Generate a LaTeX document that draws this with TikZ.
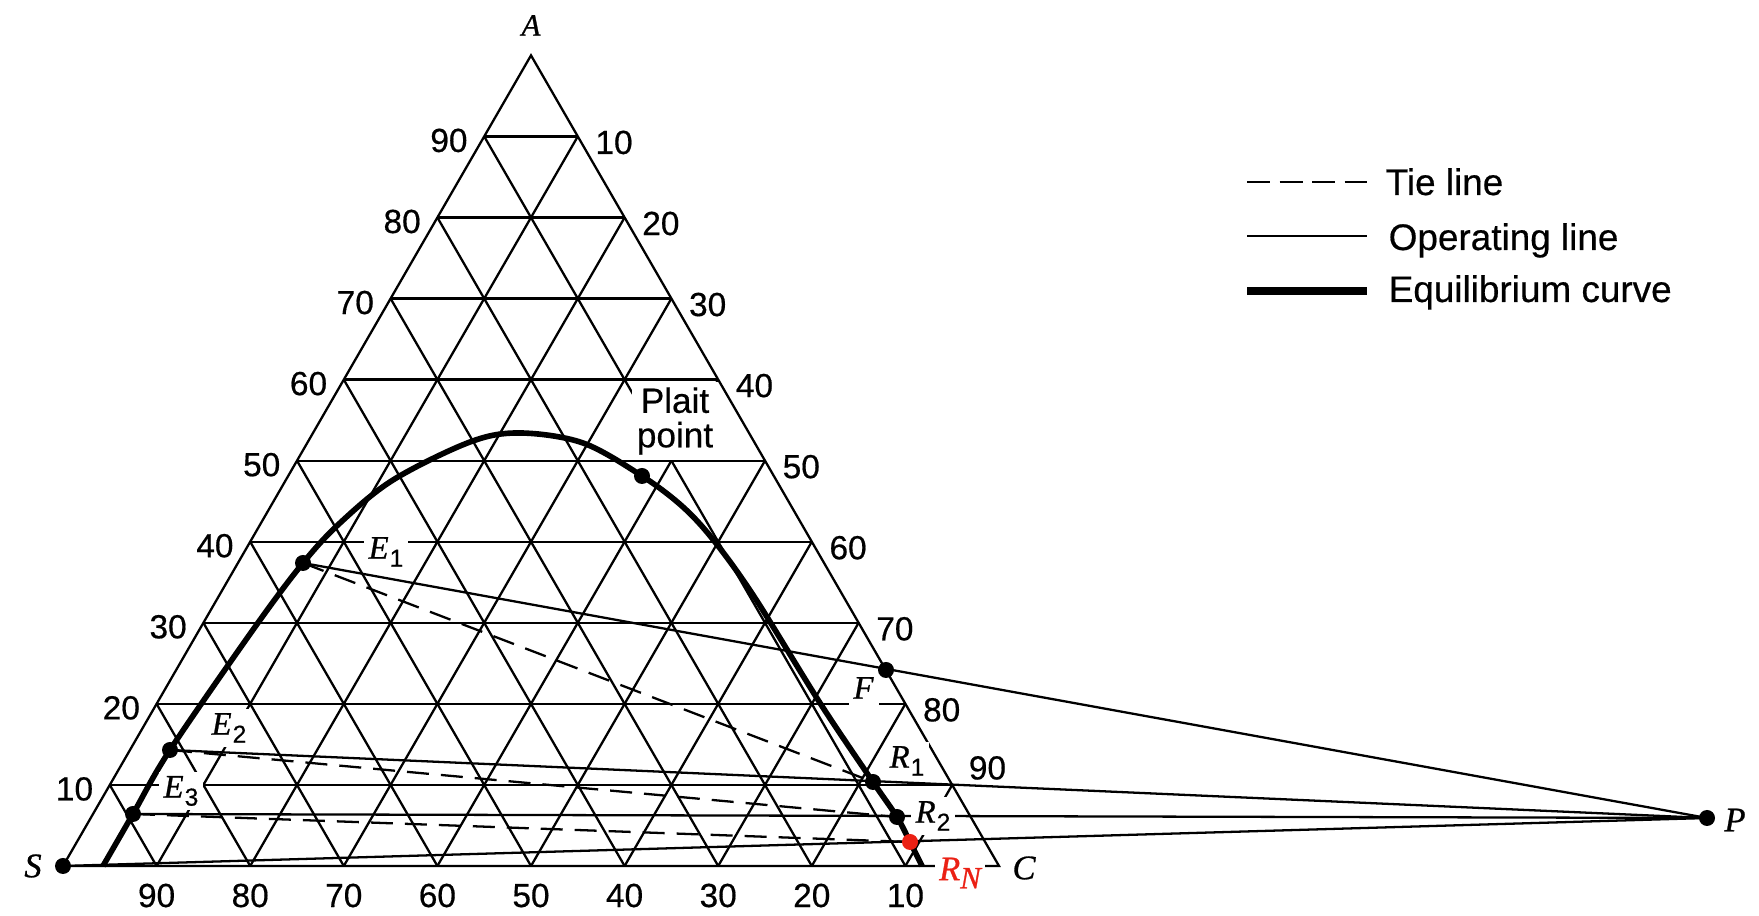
\documentclass[tikz,border=0pt]{standalone}
\usepackage{fontspec}
\setmainfont{Liberation Sans}[FakeBold=0.5]
\newfontfamily\lblfont{Liberation Serif}[ItalicFeatures={FakeBold=0.8}]
\usetikzlibrary{positioning,calc}
\definecolor{rnred}{RGB}{235,32,20}
\newcommand{\pname}[2]{{\lblfont\itshape #1}\raisebox{-2.3pt}{\fontsize{7}{8}\selectfont\kern0.3pt#2}}
\tikzstyle{grid}=[line width=0.65pt]
\tikzstyle{eq}=[line width=1.6pt,line join=round]
\tikzstyle{op}=[line width=0.65pt]
\tikzstyle{tie}=[line width=0.65pt,dash pattern=on 2.2mm off 1.2mm]
\tikzstyle{dot}=[circle,fill=black,inner sep=0pt,minimum size=1.6mm]
\tikzstyle{num}=[inner sep=0pt,font=\fontsize{9.5}{11}\selectfont]
\tikzstyle{lab}=[fill=white,inner sep=1.2pt,font=\fontsize{9.3}{10}\selectfont]
\tikzstyle{vtx}=[inner sep=0pt,font=\fontsize{9.8}{10}\selectfont\lblfont\itshape]
\tikzstyle{leg}=[inner sep=0pt,anchor=base west,font=\fontsize{10.5}{12}\selectfont]

\begin{document}
\begin{tikzpicture}
  \useasboundingbox (-0.63,-0.50) rectangle (16.96,8.66);
  % corners and points
  \coordinate (S) at (0,0);
  \coordinate (C) at (9.36,0);
  \coordinate (A) at (4.68,8.106);
  \coordinate (P) at (16.44,0.48);
  \coordinate (F) at (8.23,1.96);
  \coordinate (E1) at (2.40,3.03);
  \coordinate (E2) at (1.07,1.16);
  \coordinate (E3) at (0.70,0.52);
  \coordinate (R1) at (8.10,0.84);
  \coordinate (R2) at (8.34,0.49);
  \coordinate (RN) at (8.47,0.24);
  \coordinate (PP) at (5.79,3.90);
  % grid
  \foreach \k in {1,...,9} {
    \draw[grid] ($(S)!\k/10!(A)$) -- ($(C)!\k/10!(A)$);
    \draw[grid] ($(S)!\k/10!(C)$) -- ($(S)!\k/10!(A)$);
    \draw[grid] ($(S)!\k/10!(C)$) -- ($(C)!{1-\k/10}!(A)$);
  }
  \draw[grid] (S) -- (C) -- (A) -- cycle;
  % scales
  \foreach \k in {1,...,9} {
    \pgfmathtruncatemacro{\v}{10*\k}
    \pgfmathtruncatemacro{\w}{100-10*\k}
    \node[num,left=1.6mm,yshift=-0.4mm] (nA\k) at ($(S)!\k/10!(A)$) {\v};
    \node[num,below=1.7mm] (nS\k) at ($(S)!\k/10!(C)$) {\w};
  }
  \foreach \k in {2,...,9} {
    \pgfmathtruncatemacro{\w}{100-10*\k}
    \node[num,right=1.7mm,yshift=-0.6mm] (nC\k) at ($(C)!\k/10!(A)$) {\w};
  }
  \node[num,right=1.6mm,yshift=1.7mm] (nC1) at ($(C)!0.1!(A)$) {90};
  % equilibrium curve
  \draw[eq] plot[smooth,tension=0.55] coordinates {(0.40,0) (E3) (E2) (1.92,2.39) (E1)
    (2.77,3.43) (3.30,3.86) (4.07,4.24) (4.57,4.33) (5.20,4.23) (PP) (6.20,3.59)
    (6.52,3.24) (6.92,2.68) (7.57,1.63) (R1) (R2) (RN) (8.59,0)};
  % operating lines
  \draw[op] (E1) -- (P);
  \draw[op] (E2) -- (P);
  \draw[op] (E3) -- (P);
  \draw[op] (S) -- (P);
  % tie lines
  \draw[tie] (E1) -- (R1);
  \draw[tie] (E2) -- (R2);
  \draw[tie] (E3) -- (RN);
  % labels
  \node[lab] (lE1) [right of=E1,node distance=8.3mm,yshift=1.1mm] {\pname{E}{1}};
  \node[lab] (lE2) [right of=E2,node distance=5.9mm,yshift=2.2mm] {\pname{E}{2}};
  \node[lab] (lE3) [right of=E3,node distance=4.8mm,yshift=2.3mm] {\pname{E}{3}};
  \node[lab] (lF) [left of=F,node distance=2.2mm,yshift=-2.2mm] {\pname{F}{}};
  \node[lab] (lR1) [right of=R1,node distance=3.4mm,yshift=2.1mm] {\pname{R}{1}};
  \node[lab] (lR2) [right of=R2,node distance=3.6mm,yshift=0.1mm] {\pname{R}{2}};
  \node[lab,font=\fontsize{9.8}{10}\selectfont,text=rnred] (lRN) [right of=RN,node distance=5mm,yshift=-3.1mm] {{\lblfont\itshape R}\raisebox{-2.3pt}{\fontsize{8.8}{9}\selectfont\lblfont\itshape N}};
  \node[lab,font=\fontsize{10}{9.8}\selectfont,align=center,inner sep=1.5pt] (plait) at (6.12,4.45) {Plait\\point};
  \node[vtx,font=\fontsize{8.8}{10}\selectfont\lblfont\itshape] (lA) [above of=A,node distance=3mm] {A};
  \node[vtx] (lS) [left of=S,node distance=3mm] {S};
  \node[vtx] (lC) [right of=C,node distance=2.5mm,yshift=-0.2mm] {C};
  \node[vtx] (lP) [right of=P,node distance=2.8mm,yshift=-0.2mm] {P};
  % points
  \foreach \p in {S,E1,E2,E3,F,R1,R2,PP,P}
    \node[dot] (d\p) at (\p) {};
  \node[dot,fill=rnred] (dRN) at (RN) {};
  % legend
  \coordinate (k1) at (11.84,6.84); \coordinate (k1e) at (13.04,6.84);
  \coordinate (k2) at (11.84,6.30); \coordinate (k2e) at (13.04,6.30);
  \coordinate (k3) at (11.84,5.75); \coordinate (k3e) at (13.04,5.75);
  \draw[line width=0.8pt,dash pattern=on 2.3mm off 0.95mm] (k1) -- (k1e);
  \draw[line width=0.8pt] (k2) -- (k2e);
  \draw[line width=2.4pt] (k3) -- (k3e);
  \node[leg] (t1) at ($(k1e)+(0.18,-0.13)$) {Tie line};
  \node[leg] (t2) at ($(k2e)+(0.21,-0.14)$) {Operating line};
  \node[leg] (t3) at ($(k3e)+(0.21,-0.11)$) {Equilibrium curve};
\end{tikzpicture}
\end{document}
